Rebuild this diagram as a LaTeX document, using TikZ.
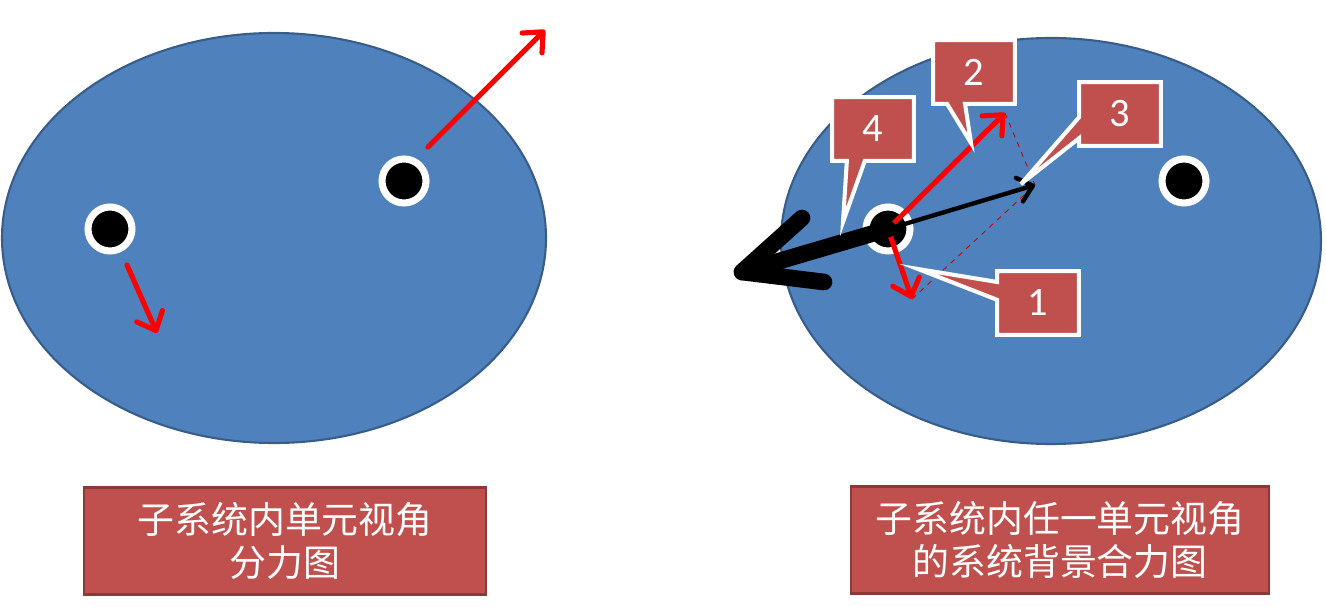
\documentclass[tikz,border=0pt]{standalone}
\usepackage{fontspec}
\setmainfont{Carlito}
\newfontfamily\cjk{Noto Sans CJK SC}
\usetikzlibrary{arrows.meta}
\usetikzlibrary{calc}
\usetikzlibrary{positioning}
\definecolor{bodyblue}{HTML}{4F81BD}
\definecolor{edgeblue}{HTML}{385D8A}
\definecolor{boxred}{HTML}{C0504D}
\definecolor{boxedge}{HTML}{8C3836}
\begin{document}
\begin{tikzpicture}
	[x=0.02cm,y=-0.02cm,
	 body/.style={fill=bodyblue,draw=edgeblue,line width=1.2pt},
	 unit/.style={circle,fill=black,draw=white,line width=4pt,inner sep=0pt,minimum size=0.88cm},
	 force/.style={red,line width=2.9pt,line cap=round,-{Straight Barb[length=9pt,width=16pt,line width=2.9pt,round]}},
	 heavy/.style={black,line width=9.5pt,line cap=round,line join=round},
	 part/.style={red!80!black,line width=0.5pt,dashed},
	 tagbox/.style={inner sep=0pt,minimum width=1.62cm,minimum height=1.26cm},
	 tagline/.style={fill=boxred,draw=white,line width=2.3pt,line join=miter},
	 digit/.style={text=white,font=\fontsize{23}{26}\selectfont},
	 titlebox/.style={fill=boxred,draw=boxedge,line width=1.6pt,minimum width=8.04cm,minimum height=2.14cm},
	 titletext/.style={text=white,align=center,font=\cjk\fontsize{21}{24.5}\selectfont}]
	\useasboundingbox (0,0) rectangle (1326,607);

	% the two subsystems
	\draw[body] (274,238) ellipse [x radius=272, y radius=205];
	\draw[body] (1051,241) ellipse [x radius=270, y radius=203];

	% left: forces on each unit
	\node[unit] (a1) at (110,229) {};
	\node[unit] (a2) at (404,181) {};
	\coordinate (a1s) at (127,265);
	\coordinate (a1e) at (157,333);
	\coordinate (a2s) at (428,147);
	\coordinate (a2e) at (545,30);
	\draw[force] (a1s) -- (a1e);
	\draw[force] (a2s) -- (a2e);

	% right: resultant on one unit
	\node[unit] (b1) at (888,229) {};
	\node[unit] (b2) at (1184,181) {};
	\coordinate (f1) at (912,299);
	\coordinate (f2) at (1005,113);
	\coordinate (f3) at (1035,185);
	\coordinate (f4) at (742,272);
	\coordinate (h1) at (802,218);
	\coordinate (h2) at (824,282);
	\draw[part] (f1) -- (f3);
	\draw[part] (f2) -- (f3);
	\draw[force] (b1.center) -- (f2);
	\draw[force] (b1.center) -- (f1);
	\draw[black,line width=2.5pt,line cap=round,-{Straight Barb[length=8pt,width=14pt,line width=2.5pt,round]}] (b1.center) -- (f3);
	\draw[heavy] (b1.center) -- (f4);
	\draw[heavy] (h1) -- (f4) -- (h2);

	% callouts
	\node[tagbox] (c2) at (974,72) {};
	\coordinate (p2) at (971,143);
	\path[tagline] (c2.north west) -- (c2.north east) -- (c2.south east)
		-- ($(c2.south west)!0.39!(c2.south east)$) -- (p2)
		-- ($(c2.south west)!0.17!(c2.south east)$) -- (c2.south west) -- cycle;
	\node[digit] at (c2) {2};

	\node[tagbox] (c4) at (873,129) {};
	\coordinate (p4) at (843,222);
	\path[tagline] (c4.north west) -- (c4.north east) -- (c4.south east)
		-- ($(c4.south west)!0.4!(c4.south east)$) -- (p4)
		-- ($(c4.south west)!0.18!(c4.south east)$) -- (c4.south west) -- cycle;
	\node[digit] at (c4) {4};

	\node[tagbox] (c3) at (1120,114) {};
	\coordinate (p3) at (1021,184);
	\path[tagline] (c3.north west) -- (c3.north east) -- (c3.south east) -- (c3.south west)
		-- ($(c3.north west)!0.88!(c3.south west)$) -- (p3)
		-- ($(c3.north west)!0.55!(c3.south west)$) -- cycle;
	\node[digit] at (c3) {3};

	\node[tagbox] (c1) at (1038,303) {};
	\coordinate (p1) at (918,269);
	\path[tagline] (c1.north west) -- (c1.north east) -- (c1.south east) -- (c1.south west)
		-- ($(c1.north west)!0.45!(c1.south west)$) -- (p1)
		-- ($(c1.north west)!0.17!(c1.south west)$) -- cycle;
	\node[digit] at (c1) {1};

	% captions
	\node[titlebox] (t1) at (285,541) {};
	\node[titletext] at (t1) {子系统内单元视角\\分力图};
	\node[titlebox,minimum width=8.36cm] (t2) at (1060,540) {};
	\node[titletext] at (t2) {子系统内任一单元视角\\的系统背景合力图};
\end{tikzpicture}
\end{document}
